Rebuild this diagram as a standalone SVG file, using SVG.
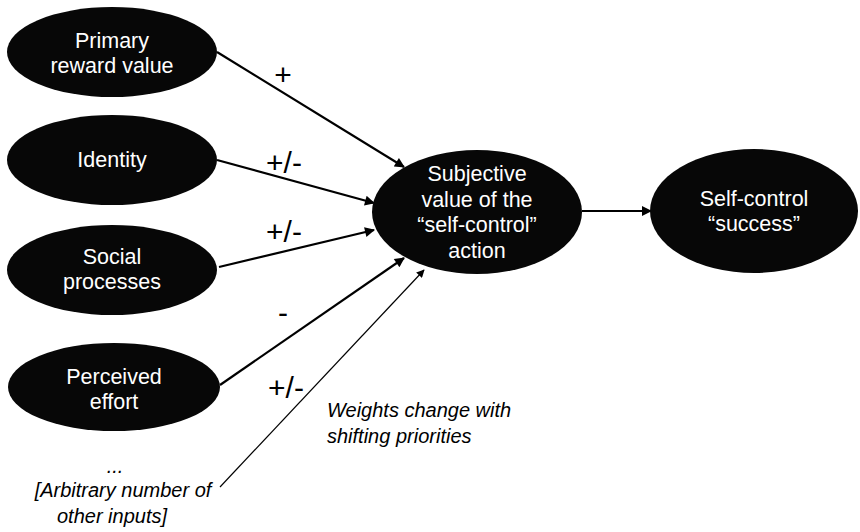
<svg xmlns="http://www.w3.org/2000/svg" width="860" height="532" viewBox="0 0 860 532">
<defs>
<marker id="ahl" viewBox="0 0 10 10" refX="9" refY="5" markerWidth="11" markerHeight="10" orient="auto" markerUnits="userSpaceOnUse"><path d="M0,0 L10,5 L0,10 z" fill="#000"/></marker>
<marker id="ahs" viewBox="0 0 10 10" refX="9" refY="5" markerWidth="9" markerHeight="8" orient="auto" markerUnits="userSpaceOnUse"><path d="M0,0 L10,5 L0,10 z" fill="#000"/></marker>
</defs>
<style>
.node ellipse{fill:#070707;}
.node text{fill:#fff;font-family:"Liberation Sans",Arial,sans-serif;font-size:21.5px;text-anchor:middle;}
.edge{stroke:#000;stroke-width:2.2;fill:none;}
.thin{stroke:#000;stroke-width:1.2;fill:none;}
.lbl{font-family:"Liberation Sans",Arial,sans-serif;font-size:30px;fill:#000;text-anchor:middle;}
.note{font-family:"Liberation Sans",Arial,sans-serif;font-style:italic;font-size:20px;fill:#000;}
</style>
<rect width="860" height="532" fill="#fff"/>
<g id="connectors">
<line class="edge" x1="217" y1="52" x2="404" y2="167" marker-end="url(#ahl)"/>
<line class="edge" x1="217" y1="160" x2="374" y2="203" marker-end="url(#ahl)"/>
<line class="edge" x1="219" y1="267" x2="374" y2="230" marker-end="url(#ahl)"/>
<line class="edge" x1="220" y1="385" x2="404" y2="258" marker-end="url(#ahl)"/>
<line class="thin" x1="220" y1="487" x2="424" y2="270" marker-end="url(#ahs)"/>
<line class="edge" x1="582" y1="211" x2="651" y2="211" marker-end="url(#ahl)"/>
<text class="lbl" x="283" y="85">+</text>
<text class="lbl" x="284" y="173">+/-</text>
<text class="lbl" x="284" y="242">+/-</text>
<text class="lbl" x="283" y="323">-</text>
<text class="lbl" x="286" y="398">+/-</text>
</g>
<g id="n-primary" class="node"><ellipse cx="112" cy="52" rx="105" ry="45"/><text x="112" y="48">Primary</text><text x="112" y="73">reward value</text></g>
<g id="n-identity" class="node"><ellipse cx="112" cy="160" rx="105" ry="45"/><text x="112" y="167">Identity</text></g>
<g id="n-social" class="node"><ellipse cx="112" cy="270" rx="105" ry="45"/><text x="112" y="264">Social</text><text x="112" y="289">processes</text></g>
<g id="n-effort" class="node"><ellipse cx="114" cy="387" rx="106" ry="44"/><text x="114" y="384">Perceived</text><text x="114" y="409">effort</text></g>
<g id="n-value" class="node"><ellipse cx="477" cy="212" rx="105" ry="62"/><text x="477" y="181">Subjective</text><text x="477" y="207">value of the</text><text x="477" y="232">“self-control”</text><text x="477" y="258">action</text></g>
<g id="n-success" class="node"><ellipse cx="754" cy="211" rx="104" ry="62"/><text x="754" y="206">Self-control</text><text x="754" y="231">“success”</text></g>
<g id="notes">
<text class="note" x="327" y="417">Weights change with</text>
<text class="note" x="327" y="443">shifting priorities</text>
<text class="note" x="115" y="473" text-anchor="middle">...</text>
<text class="note" x="123" y="497" text-anchor="middle">[Arbitrary number of</text>
<text class="note" x="112" y="523" text-anchor="middle">other inputs]</text>
</g>
</svg>
